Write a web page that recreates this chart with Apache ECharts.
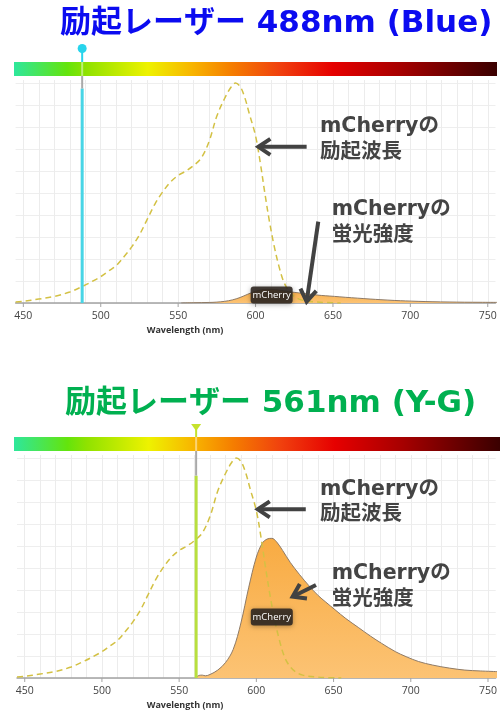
<!DOCTYPE html>
<html>
<head>
<meta charset="utf-8">
<script src="https://cdn.jsdelivr.net/npm/echarts@6/dist/echarts.min.js"></script>
<style>
  html, body { margin: 0; padding: 0; background: #fff; }
  #chart { width: 500px; height: 711px; }
</style>
</head>
<body>
<div id="chart"></div>
<script>
// mCherry excitation spectrum (relative %, peak at 587 nm)
const excitationWavelengths = [445, 450, 460, 470, 480, 488, 495, 500, 505, 510, 515, 520, 525, 530, 535, 540, 545, 550, 555, 560, 565, 570, 575, 580, 584, 587, 590, 593, 596, 600, 603, 606, 609, 612, 615, 618, 621, 625, 630, 640, 655];
const excitationValues = [0.5, 0.8, 1.8, 3, 5, 7.5, 10, 12, 14.5, 17, 21, 25.5, 31, 38, 45, 50.5, 55, 58, 60, 62.5, 66, 73.5, 85, 93, 98, 100, 98.5, 93.5, 86, 76, 64, 50, 37, 26, 17, 10, 6, 3, 1.3, 0.4, 0];

// mCherry emission under the 488 nm laser
const emissionWavelengths488 = [552, 560, 570, 575, 580, 585, 590, 595, 600, 604, 607, 610, 613, 617, 622, 628, 634, 640, 645, 651, 658, 666, 674, 681, 690, 697, 705, 714, 725, 735, 745, 756];
const emissionValues488 = [0, 0.1, 0.25, 0.4, 0.75, 1.4, 2.5, 4.0, 5.3, 6.0, 6.2, 6.2, 6.1, 5.7, 5.1, 4.6, 4.1, 3.6, 3.3, 3.0, 2.6, 2.2, 1.8, 1.5, 1.15, 0.95, 0.75, 0.58, 0.45, 0.36, 0.32, 0.28];

// mCherry emission under the 561 nm laser
const emissionWavelengths561 = [561, 563, 565, 567, 570, 575, 580, 585, 590, 595, 600, 604, 607, 610, 613, 617, 622, 628, 634, 640, 645, 651, 658, 666, 674, 681, 690, 697, 705, 714, 725, 735, 745, 756];
const emissionValues561 = [0.3, 1.2, 1.3, 1.0, 1.6, 3.6, 7, 13, 25, 41, 55, 61.5, 63.2, 63.5, 62, 58, 52.5, 47, 42, 37.5, 34.5, 31, 27, 23, 19, 15.8, 12, 9.7, 7.5, 5.9, 4.5, 3.6, 3.2, 2.9];

// laser wavelengths and the height their line reaches (%)
const laserWavelengths = [488, 561];
const laserLineTops = [97.5, 92];

// axis tick labels
const tickLabels = [450, 500, 550, 600, 650, 700, 750];

const seriesName = 'mCherry';
const titles = ['励起レーザー 488nm (Blue)', '励起レーザー 561nm (Y-G)'];
const excitationNote = ['mCherryの', '励起波長'];
const emissionNote = ['mCherryの', '蛍光強度'];
const axisName = 'Wavelength (nm)';

const pair = (xs, ys) => xs.map((x, i) => [x, ys[i]]);
const BOLD_FONT = '"DejaVu Sans", "Noto Sans CJK JP", sans-serif';

const panels = [
  {
    grid: { left: 15.6, top: 80, width: 479.9, height: 223 },
    titleColor: '#0b0bf0', titleX: 60, titleY: 24,
    barY: 62, barRight: 497,
    laserColor: '#48d5e6', marker: 'pin', markerColor: '#27d4ec', markerY: 48.5,
    emission: pair(emissionWavelengths488, emissionValues488),
    notes: { excX: 320, excY: 127, emX: 331.7, emY: 210 },
    arrows: [ { tail: [633, 71], tip: [601.8, 71] }, { tail: [640.5, 37], tip: [633, 0.6] } ],
    badge: [610.4, 3.6],
    axisNameY: 330
  },
  {
    grid: { left: 17, top: 455, width: 479.9, height: 223 },
    titleColor: '#00b050', titleX: 65, titleY: 404,
    barY: 437, barRight: 500,
    laserColor: '#b8df3e', marker: 'triangle', markerColor: '#c6e22c', markerY: 424,
    emission: pair(emissionWavelengths561, emissionValues561),
    notes: { excX: 320, excY: 489.5, emX: 331.7, emY: 574 },
    arrows: [ { tail: [632, 76.7], tip: [600.9, 76.7] }, { tail: [638.6, 42.3], tip: [623.5, 37] } ],
    badge: [610, 27.7],
    axisNameY: 705
  }
];

const chart = echarts.init(document.getElementById('chart'), null, { renderer: 'canvas' });

const grids = [], xAxes = [], yAxes = [], series = [];
panels.forEach((p, i) => {
  grids.push(Object.assign({ containLabel: false }, p.grid));
  xAxes.push({
    type: 'value', gridIndex: i, min: 445, max: 755, interval: 5,
    axisLine: { lineStyle: { color: '#a3a3a3', width: 1.5 } },
    axisTick: { show: false },
    axisLabel: {
      formatter: v => (tickLabels.indexOf(v) >= 0 ? String(v) : ''),
      color: '#444', fontSize: 10.5, margin: 8, fontFamily: '"Open Sans", sans-serif'
    },
    // every other 5 nm line is hidden, leaving a 10 nm grid
    splitLine: { show: true, lineStyle: { color: ['rgba(0,0,0,0)', '#ececec'], width: 1 } }
  });
  yAxes.push({
    type: 'value', gridIndex: i, min: 0, max: 101.4, interval: 10,
    axisLine: { show: false }, axisTick: { show: false }, axisLabel: { show: false },
    splitLine: { show: true, showMaxLine: false, lineStyle: { color: '#eeeeee', width: 1 } }
  });
  series.push({
    name: seriesName, type: 'line', xAxisIndex: i, yAxisIndex: i,
    data: p.emission, smooth: 0.35, showSymbol: false, z: 2,
    lineStyle: { color: '#8e7a66', width: 1 },
    areaStyle: {
      color: new echarts.graphic.LinearGradient(0, 0, 0, 1, [
        { offset: 0, color: '#f8ab42' },
        { offset: 1, color: '#fcc374' }
      ]),
      opacity: 1
    }
  });
  series.push({
    name: seriesName + ' excitation', type: 'line', xAxisIndex: i, yAxisIndex: i,
    data: pair(excitationWavelengths, excitationValues), smooth: 0.35, showSymbol: false, z: 3,
    lineStyle: { color: '#d3c144', width: 1.5, type: [6, 4] }
  });
  series.push({
    name: 'laser', type: 'line', xAxisIndex: i, yAxisIndex: i,
    data: [[laserWavelengths[i], 0], [laserWavelengths[i], laserLineTops[i]]],
    showSymbol: false, z: 4,
    lineStyle: { color: p.laserColor, width: 3 }
  });
});

chart.setOption({
  animation: false,
  backgroundColor: '#ffffff',
  grid: grids, xAxis: xAxes, yAxis: yAxes, series: series
});

// Overlay: titles, spectrum bars, laser markers, notes with arrows, series badge, ticks
const graphics = [];
const spectrumStops = [
  { offset: 0, color: '#2ee79c' },
  { offset: 0.11, color: '#64e40c' },
  { offset: 0.15, color: '#90e200' },
  { offset: 0.277, color: '#eef200' },
  { offset: 0.37, color: '#f8b400' },
  { offset: 0.45, color: '#f57e00' },
  { offset: 0.55, color: '#f0400e' },
  { offset: 0.66, color: '#e60000' },
  { offset: 0.8, color: '#a60000' },
  { offset: 1, color: '#3a0000' }
];

function arrow(from, to) {
  const dx = to[0] - from[0], dy = to[1] - from[1];
  const len = Math.hypot(dx, dy);
  const ux = dx / len, uy = dy / len, nx = -uy, ny = ux;
  const L = 12, W = 8;
  const col = '#424242';
  graphics.push({
    type: 'line', z: 20,
    shape: { x1: from[0], y1: from[1], x2: to[0] - ux * 2, y2: to[1] - uy * 2 },
    style: { stroke: col, lineWidth: 4 }
  });
  graphics.push({
    type: 'polyline', z: 20,
    shape: { points: [[to[0] - ux * L + nx * W, to[1] - uy * L + ny * W], [to[0], to[1]], [to[0] - ux * L - nx * W, to[1] - uy * L - ny * W]] },
    style: { stroke: col, lineWidth: 4, fill: null, lineJoin: 'miter' }
  });
}

function text(str, x, y, font, fill, align) {
  graphics.push({
    type: 'text', z: 20,
    style: { text: str, x: x, y: y, font: font, fill: fill, align: align || 'left', verticalAlign: 'middle' }
  });
}

panels.forEach((p, i) => {
  const px = v => chart.convertToPixel({ gridIndex: i }, v);
  const base = px([450, 0])[1];

  text(titles[i], p.titleX, p.titleY, 'bold 31px ' + BOLD_FONT, p.titleColor);

  graphics.push({
    type: 'rect', z: 5,
    shape: { x: 14, y: p.barY, width: p.barRight - 14, height: 14 },
    style: { fill: new echarts.graphic.LinearGradient(0, 0, 1, 0, spectrumStops) }
  });

  // laser marker above the bar
  const lx = px([laserWavelengths[i], 0])[0];
  const lineTopY = px([laserWavelengths[i], laserLineTops[i]])[1];
  if (p.marker === 'pin') {
    graphics.push({ type: 'circle', z: 8, shape: { cx: lx, cy: p.markerY, r: 4.5 }, style: { fill: p.markerColor } });
    graphics.push({ type: 'line', z: 7, shape: { x1: lx, y1: p.markerY, x2: lx, y2: p.barY }, style: { stroke: p.markerColor, lineWidth: 2 } });
  } else {
    graphics.push({ type: 'polygon', z: 8, shape: { points: [[lx - 5, p.markerY], [lx + 5, p.markerY], [lx, p.markerY + 7]] }, style: { fill: p.markerColor } });
    graphics.push({ type: 'line', z: 7, shape: { x1: lx, y1: p.markerY + 5, x2: lx, y2: p.barY }, style: { stroke: p.markerColor, lineWidth: 2 } });
  }
  graphics.push({ type: 'line', z: 7, shape: { x1: lx, y1: p.barY, x2: lx, y2: p.barY + 14 }, style: { stroke: 'rgba(255,255,255,0.45)', lineWidth: 2 } });
  graphics.push({ type: 'line', z: 7, shape: { x1: lx, y1: p.barY + 14, x2: lx, y2: lineTopY }, style: { stroke: '#a9a9a9', lineWidth: 2 } });

  // notes
  const noteFont = 'bold 20.5px ' + BOLD_FONT;
  text(excitationNote[0], p.notes.excX, p.notes.excY, noteFont, '#444444');
  text(excitationNote[1], p.notes.excX, p.notes.excY + 25.5, noteFont, '#444444');
  text(emissionNote[0], p.notes.emX, p.notes.emY, noteFont, '#444444');
  text(emissionNote[1], p.notes.emX, p.notes.emY + 25.5, noteFont, '#444444');
  p.arrows.forEach(a => arrow(px(a.tail), px(a.tip)));

  // series badge
  const b = px(p.badge);
  graphics.push({
    type: 'rect', z: 15,
    shape: { x: b[0] - 21, y: b[1] - 8.5, width: 42, height: 17, r: 3 },
    style: { fill: 'rgba(48,40,34,0.9)', shadowBlur: 5, shadowColor: 'rgba(0,0,0,0.35)', shadowOffsetY: 1 }
  });
  graphics.push({
    type: 'text', z: 16,
    style: { text: seriesName, x: b[0], y: b[1], font: '9.5px "Open Sans", sans-serif', fill: '#ffffff', align: 'center', verticalAlign: 'middle' }
  });

  // ticks at labelled wavelengths
  tickLabels.forEach(t => {
    const tx = px([t, 0])[0];
    graphics.push({ type: 'line', z: 6, shape: { x1: tx, y1: base, x2: tx, y2: base + 4 }, style: { stroke: '#a3a3a3', lineWidth: 1 } });
  });

  text(axisName, 185, p.axisNameY, 'bold 9px "Open Sans", sans-serif', '#333333', 'center');
});

chart.setOption({ graphic: graphics });
</script>
</body>
</html>
